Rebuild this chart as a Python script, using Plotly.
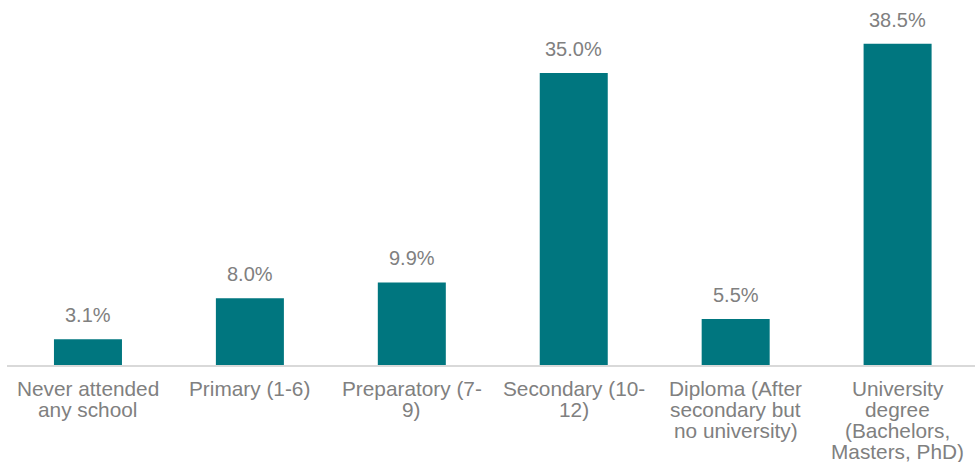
import plotly.graph_objects as go

categories = [
    "Never attended any school",
    "Primary (1-6)",
    "Preparatory (7-9)",
    "Secondary (10-12)",
    "Diploma (After secondary but no university)",
    "University degree (Bachelors, Masters, PhD)",
]
label_lines = [
    ["Never attended", "any school"],
    ["Primary (1-6)"],
    ["Preparatory (7-", "9)"],
    ["Secondary (10-", "12)"],
    ["Diploma (After", "secondary but", "no university)"],
    ["University", "degree", "(Bachelors,", "Masters, PhD)"],
]
values = [3.1, 8.0, 9.9, 35.0, 5.5, 38.5]

BAR_COLOR = "#00767F"
TEXT_COLOR = "#808080"
FONT = "Liberation Sans, Arial, sans-serif"

fig = go.Figure()
fig.add_trace(go.Bar(
    x=categories, y=values, marker_color=BAR_COLOR,
    marker_line_width=0, hoverinfo="skip",
))

annotations = []
for c, v in zip(categories, values):
    annotations.append(dict(
        x=c, y=v, xref="x", yref="y", text=f"{v:.1f}%", showarrow=False,
        yanchor="bottom", yshift=11,
        font=dict(family=FONT, size=20, color=TEXT_COLOR),
    ))
for c, lines in zip(categories, label_lines):
    for i, line in enumerate(lines):
        annotations.append(dict(
            x=c, y=0, xref="x", yref="y", text=line, showarrow=False,
            yanchor="top", yshift=-10 - 21 * i,
            font=dict(family=FONT, size=20.8, color=TEXT_COLOR),
        ))

fig.update_layout(
    width=975, height=462,
    margin=dict(l=7, r=0, t=0, b=97),
    paper_bgcolor="white", plot_bgcolor="white",
    bargap=0.58,
    showlegend=False,
    xaxis=dict(
        showticklabels=False, ticks="", showgrid=False, zeroline=False,
        showline=True, linecolor="#D9D9D9", linewidth=2,
        range=[-0.5, 5.478],
    ),
    yaxis=dict(
        visible=False, range=[0, 43.75], showgrid=False, zeroline=False,
    ),
    annotations=annotations,
)

fig.write_html("out.html")
